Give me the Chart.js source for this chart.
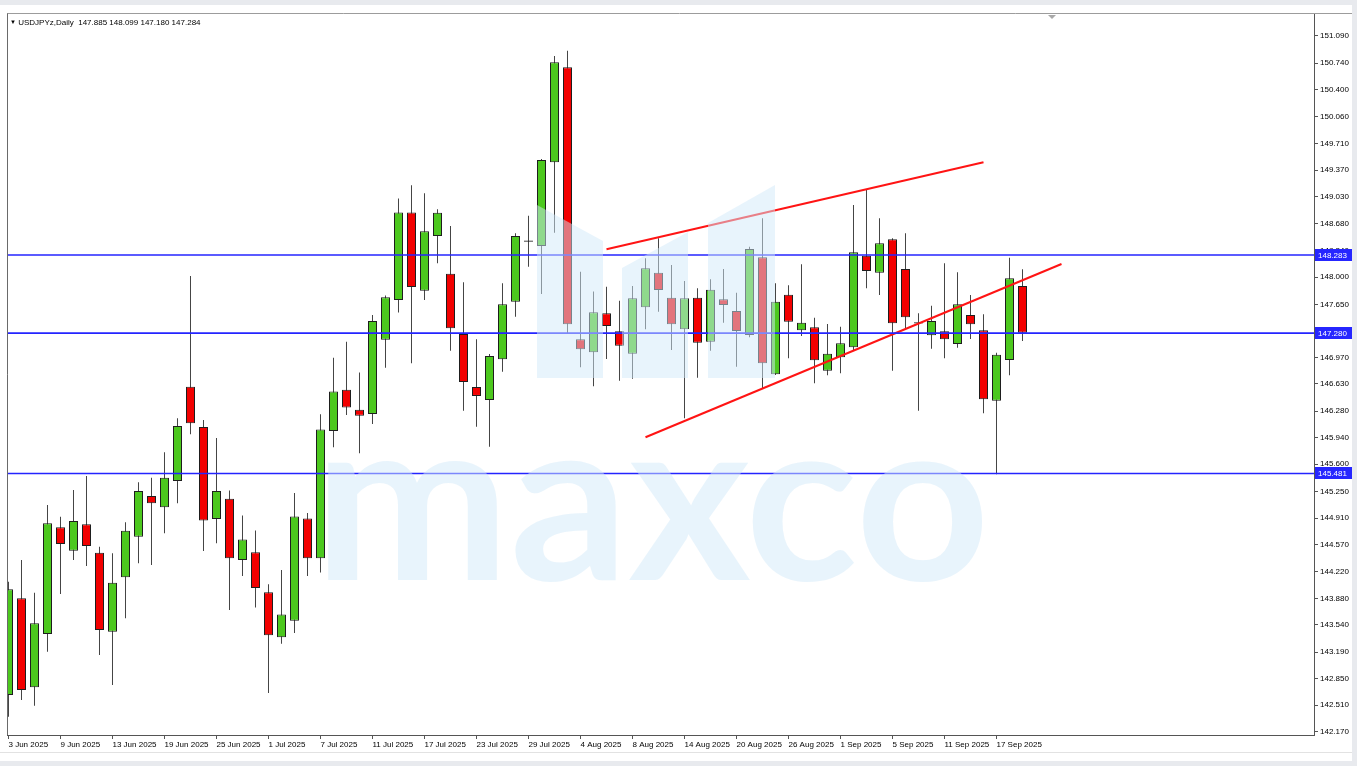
<!DOCTYPE html>
<html>
<head>
<meta charset="utf-8">
<script src="https://cdn.jsdelivr.net/npm/chart.js@4.4.1/dist/chart.umd.min.js"></script>
<style>
html,body{margin:0;padding:0;background:#e8eaee;overflow:hidden;}
#wrap{position:relative;width:1357px;height:766px;}
#c{position:absolute;left:0;top:0;}
#title{position:absolute;left:10px;top:17px;font-family:"Liberation Sans",Arial,sans-serif;font-size:8px;line-height:10px;color:#000;white-space:pre;}
#title .tri{font-size:6px;vertical-align:1px;}
</style>
</head>
<body>
<div id="wrap">
<canvas id="c" width="1357" height="766"></canvas>
<div id="title"><span class="tri">▼</span> USDJPYz,Daily  147.885 148.099 147.180 147.284</div>
</div>
<script>
// ---- data (USDJPY daily, 3 Jun 2025 .. 19 Sep 2025, one entry per trading day) ----
const opens  = [142.641,143.881,142.740,143.423,144.791,144.491,144.830,144.466,143.453,144.150,
                144.671,145.193,145.048,145.385,146.594,146.077,144.898,145.157,144.371,144.471,
                143.959,143.380,143.594,144.905,144.394,146.025,146.554,146.298,146.244,147.194,
                147.705,148.827,147.825,148.526,148.043,147.269,146.590,146.423,146.945,147.684,
                148.455,148.398,149.471,150.689,147.202,147.035,147.535,147.304,147.017,147.612,
                148.055,147.735,147.330,147.735,147.171,147.714,147.564,147.257,148.253,146.753,
                147.773,147.317,147.355,146.799,146.971,147.099,148.273,148.055,148.484,148.103,
                147.409,147.253,147.304,147.141,147.513,147.317,146.414,146.936,147.885];
const highs  = [144.094,144.372,143.953,145.077,144.927,145.269,145.449,144.543,144.458,144.855,
                145.368,145.427,145.753,146.189,148.013,146.167,145.936,145.262,144.941,144.750,
                144.061,144.243,145.230,144.973,146.239,146.966,147.171,146.777,147.513,147.764,
                149.007,149.177,149.073,148.868,148.654,147.932,147.202,147.013,147.919,148.561,
                148.786,149.513,150.834,150.902,148.068,147.814,147.876,147.696,147.885,148.240,
                148.496,148.154,147.949,147.855,147.971,148.103,147.799,148.389,148.753,147.919,
                147.894,148.163,147.478,147.398,147.363,148.923,149.125,148.753,148.496,148.561,
                147.535,147.632,148.176,148.061,147.769,147.522,147.030,148.248,148.099];
const lows   = [142.363,142.577,142.504,143.196,143.936,144.372,144.295,143.154,142.769,143.625,
                144.330,144.308,144.714,145.099,145.984,144.487,144.586,143.731,144.166,143.763,
                142.667,143.298,143.435,144.166,144.211,145.818,146.230,145.741,146.116,146.837,
                147.545,146.895,147.705,148.176,147.055,146.286,146.081,145.825,146.786,147.491,
                148.132,147.782,148.568,147.269,146.843,146.599,146.949,146.671,146.696,147.330,
                147.555,147.064,146.189,146.709,147.055,147.414,146.850,147.227,146.573,146.745,
                146.958,147.244,146.637,146.740,146.766,147.064,147.855,147.769,146.799,147.321,
                146.286,147.081,146.958,147.094,147.205,146.253,145.470,146.740,147.180];
const closes = [143.996,142.705,143.561,144.843,144.577,144.872,144.552,143.475,144.081,144.748,
                145.257,145.099,145.427,146.090,146.125,144.878,145.257,144.394,144.636,144.014,
                143.407,143.672,144.928,144.394,146.046,146.531,146.326,146.221,147.436,147.741,
                148.828,147.871,148.586,148.825,147.343,146.654,146.475,146.987,147.650,148.526,
                148.452,149.500,150.753,147.394,147.073,147.548,147.372,147.119,147.727,148.112,
                147.834,147.394,147.727,147.158,147.837,147.641,147.308,148.359,146.894,147.684,
                147.427,147.414,146.932,147.017,147.150,148.317,148.077,148.432,147.407,147.484,
                147.405,147.436,147.202,147.650,147.394,146.432,147.004,147.984,147.284];

const xTickIndex  = [0,4,8,12,16,20,24,28,32,36,40,44,48,52,56,60,64,68,72,76];
const xTickLabels = ['3 Jun 2025','9 Jun 2025','13 Jun 2025','19 Jun 2025','25 Jun 2025','1 Jul 2025',
                     '7 Jul 2025','11 Jul 2025','17 Jul 2025','23 Jul 2025','29 Jul 2025','4 Aug 2025',
                     '8 Aug 2025','14 Aug 2025','20 Aug 2025','26 Aug 2025','1 Sep 2025','5 Sep 2025',
                     '11 Sep 2025','17 Sep 2025'];
const yTickValues = [142.170,142.510,142.850,143.190,143.540,143.880,144.220,144.570,144.910,145.250,
                     145.600,145.940,146.280,146.630,146.970,147.310,147.650,148.000,148.340,148.680,
                     149.030,149.370,149.710,150.060,150.400,150.740,151.090];
const levelLines  = [148.283, 147.280, 145.481];
const upperTrend  = [{x:46.0, y:148.355}, {x:75.0, y:149.471}];
const lowerTrend  = [{x:49.0, y:145.945}, {x:81.0, y:148.167}];

// ---- styles ----
const BULL = '#4cc81e', BEAR = '#f20000', DOJI = '#3a3a3a';
const WICK = '#454545', EDGE = '#1e1e1e';
const LEVEL = '#2424ff', TREND = '#ff1414';
const WM = 'rgba(209,233,249,0.5)';

const wickData = opens.map((o,i)=>({x:i, y:[lows[i], highs[i]]}));
const bodyData = opens.map((o,i)=>({x:i, y:[o, closes[i]]}));
function bodyColor(ctx){
  const i = ctx.dataIndex; if (i == null) return BULL;
  const d = closes[i]-opens[i];
  if (Math.abs(d) < 0.01) return DOJI;
  return d > 0 ? BULL : BEAR;
}

const datasets = [];
levelLines.forEach(v=>datasets.push({type:'line', data:[{x:-1,y:v},{x:102,y:v}], borderColor:LEVEL,
  borderWidth:1.6, pointRadius:0, fill:false, order:0, clip:0}));
[upperTrend, lowerTrend].forEach(t=>datasets.push({type:'line', data:t, borderColor:TREND,
  borderWidth:2, pointRadius:0, fill:false, order:0, clip:0}));
datasets.push({type:'bar', data:bodyData, backgroundColor:bodyColor, borderColor:EDGE, borderWidth:1,
  borderSkipped:false, barThickness:9, grouped:false, minBarLength:1.2, inflateAmount:0, order:1, clip:0});
datasets.push({type:'bar', data:wickData, backgroundColor:WICK, borderWidth:0, barThickness:1,
  grouped:false, inflateAmount:0, order:2, clip:0});

const FONT = {family:'"Liberation Sans", Arial, sans-serif', size:8};

const panelPlugin = {
  id:'panel',
  beforeDraw(chart){
    const c = chart.ctx; c.save();
    c.fillStyle = '#e8eaee'; c.fillRect(0,0,chart.width,chart.height);
    c.fillStyle = '#ffffff'; c.fillRect(0,5,1352,756);
    c.strokeStyle = '#e2e2e2'; c.lineWidth = 1;
    c.beginPath(); c.moveTo(0,752.5); c.lineTo(1352,752.5); c.stroke();
    c.restore();
  },
  afterDatasetsDraw(chart){
    const c = chart.ctx, a = chart.chartArea; c.save();
    c.beginPath(); c.rect(a.left, a.top, a.right-a.left, a.bottom-a.top); c.clip();
    c.fillStyle = WM;
    // logo
    const polys = [
      [[537,205],[603,241],[603,378],[537,378]],
      [[622,268],[688,232],[688,378],[622,378]],
      [[708,223],[775,185],[775,378],[708,378]]
    ];
    polys.forEach(p=>{ c.beginPath(); c.moveTo(p[0][0],p[0][1]); for(let k=1;k<p.length;k++) c.lineTo(p[k][0],p[k][1]); c.closePath(); c.fill(); });
    // word mark
    c.font = '700 200px Lato, "Open Sans", sans-serif';
    c.textAlign = 'left'; c.textBaseline = 'alphabetic';
    const m = c.measureText('maxco');
    const bw = m.actualBoundingBoxLeft + m.actualBoundingBoxRight;
    const bh = m.actualBoundingBoxAscent + m.actualBoundingBoxDescent;
    c.translate(328,460); c.scale((983-328)/bw, (582-460)/bh);
    c.fillText('maxco', m.actualBoundingBoxLeft, m.actualBoundingBoxAscent);
    c.restore();
  },
  afterDraw(chart){
    const c = chart.ctx, a = chart.chartArea, ys = chart.scales.y; c.save();
    c.lineWidth = 1;
    c.strokeStyle = '#9c9c9c';
    c.beginPath(); c.moveTo(a.left, 13.5); c.lineTo(1352, 13.5); c.stroke();
    c.strokeStyle = '#6a6a6a';
    c.beginPath(); c.moveTo(a.left+0.5, 13.5); c.lineTo(a.left+0.5, a.bottom); c.stroke();
    // chart shift marker
    c.fillStyle = '#a8a8a8';
    c.beginPath(); c.moveTo(1048,15); c.lineTo(1056,15); c.lineTo(1052,19); c.closePath(); c.fill();
    // level price boxes
    c.font = '8px "Liberation Sans", Arial, sans-serif';
    c.textBaseline = 'middle'; c.textAlign = 'left';
    levelLines.forEach(v=>{
      const y = Math.round(ys.getPixelForValue(v));
      c.fillStyle = '#2626ff'; c.fillRect(a.right+1, y-6, 37, 12);
      c.fillStyle = '#ffffff'; c.fillText(v.toFixed(3), a.right+4, y+0.5);
    });
    c.restore();
  }
};

new Chart(document.getElementById('c'), {
  type:'bar',
  data:{datasets},
  options:{
    responsive:false, animation:false, devicePixelRatio:1,
    layout:{padding:{left:7, top:14, right:0, bottom:0}},
    plugins:{legend:{display:false}, tooltip:{enabled:false}, title:{display:false}},
    events:[],
    scales:{
      x:{type:'linear', min:-0.11538, max:100.4231, offset:false, bounds:'data',
        grid:{display:true, drawOnChartArea:false, drawTicks:true, tickLength:4, color:'#555', offset:false},
        border:{display:true, color:'#555'},
        ticks:{autoSkip:false, maxRotation:0, minRotation:0, align:'start', padding:1, color:'#000', font:FONT,
          callback:(v,i)=>xTickLabels[i]},
        afterBuildTicks:s=>{ s.ticks = xTickIndex.map(v=>({value:v})); },
        afterFit:s=>{ s.height = 31; }
      },
      y:{type:'linear', position:'right', min:142.128, max:151.372, bounds:'data',
        grid:{display:true, drawOnChartArea:false, drawTicks:true, tickLength:4, color:'#555'},
        border:{display:true, color:'#555'},
        ticks:{autoSkip:false, padding:2, color:'#000', font:FONT, callback:(v,i)=>yTickValues[i].toFixed(3)},
        afterBuildTicks:s=>{ s.ticks = yTickValues.map(v=>({value:v})); },
        afterFit:s=>{ s.width = 43; }
      }
    }
  },
  plugins:[panelPlugin]
});
</script>
</body>
</html>
